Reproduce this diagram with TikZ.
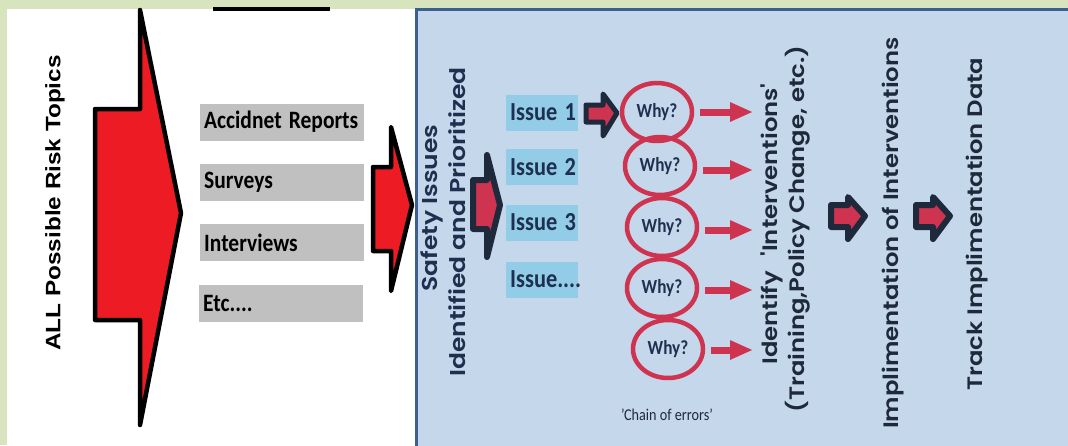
\documentclass[tikz,border=0pt]{standalone}
\usepackage{fontspec}
\usepackage{graphicx}
\usetikzlibrary{arrows.meta,shapes.geometric}
\setmainfont{Carlito}
\IfFontExistsTF{Poppins SemiBold}{\newfontfamily\popfont{Poppins SemiBold}\def\popsz{24.3}\def\popszb{25}}{\newfontfamily\popfont[UprightFont=*-Bold]{Poppins}\def\popsz{24}\def\popszb{24.6}}
\newfontfamily\arialfont{Liberation Sans}
\definecolor{bggreen}{RGB}{215,228,189}
\definecolor{bigred}{RGB}{237,28,36}
\definecolor{crimson}{RGB}{206,52,79}
\definecolor{navyb}{RGB}{30,42,60}
\definecolor{textnavy}{RGB}{30,48,80}
\definecolor{issueblue}{RGB}{146,204,230}
\definecolor{panelblue}{RGB}{197,215,234}
\definecolor{panelborder}{RGB}{60,95,145}
\definecolor{grayb}{RGB}{192,192,192}
\newcommand\hx[1]{\scalebox{0.86}[1]{#1}}
\newcommand\vx[1]{\scalebox{1}[0.86]{#1}}
\begin{document}
\begin{tikzpicture}[x=1pt,y=-1pt,
  bigarrow/.style={draw=black,fill=bigred,line width=4.5pt,line join=round},
  darrow/.style={draw=navyb,fill=crimson,line width=6pt,line join=round},
  graybox/.style={anchor=west,fill=grayb,text width=156pt,inner xsep=4pt,minimum height=37pt,align=left,
     font=\fontsize{25}{30}\selectfont\bfseries,text=black},
  issuebox/.style={anchor=west,fill=issueblue,text width=64pt,inner xsep=4pt,minimum height=36pt,align=left,
     font=\fontsize{26}{30}\selectfont\bfseries,text=textnavy},
  whyc/.style={ellipse,draw=crimson,line width=4.5pt,minimum width=70pt,minimum height=58pt,inner sep=0pt,
     font=\fontsize{20}{22}\selectfont\bfseries,text=textnavy},
  redarrow/.style={draw=crimson,line width=7pt,-{Triangle[length=23pt,width=18pt]}},
  rot/.style={rotate=90,inner sep=0pt},
  poptext/.style={rot,font=\popfont\fontsize{\popsz}{28}\selectfont},
  poptextb/.style={rot,font=\popfont\fontsize{\popszb}{28}\selectfont},
]
\useasboundingbox (0,0) rectangle (1068,445);
\clip (0,0) rectangle (1068,445);
\fill[bggreen] (0,0) rectangle (1068,445);
\fill[white] (7,9) rectangle (416,450);
\fill[panelblue] (415,9) rectangle (1080,460);
\draw[panelborder,line width=3pt] (416.5,460) -- (416.5,9.5) -- (1080,9.5);
\draw[black,line width=4pt] (213,9) -- (330,9);

% left part
\node[rot,font=\arialfont\bfseries\fontsize{24.3}{28}\selectfont,text=black] (topics) at (55,203) {\vx{ALL Possible Risk Topics}};
\draw[bigarrow] (95,109) -- (140,109) -- (140,10) -- (181,213) -- (140,425) -- (140,320) -- (95,320) -- cycle;
\node[graybox] (g1) at (200,122) {\hx{Accidnet Reports}};
\node[graybox] (g2) at (200,182.5) {\hx{Surveys}};
\node[graybox] (g3) at (200,242.5) {\hx{Interviews}};
\node[graybox] (g4) at (199,303) {\hx{Etc....}};
\draw[bigarrow] (373,167) -- (391,167) -- (391,127) -- (412,205) -- (391,291) -- (391,251) -- (373,251) -- cycle;

% right part
\node[poptextb,text=textnavy] (safety) at (432,208) {\vx{Safety Issues}};
\node[poptextb,text=textnavy] (ident) at (457,222) {\vx{Identified and Prioritized}};
\draw[darrow] (473,180) -- (487,180) -- (487,155) -- (500,205) -- (487,257) -- (487,229) -- (473,229) -- cycle;

\node[issuebox] (i1) at (506,112.5) {\hx{Issue 1}};
\node[issuebox] (i2) at (506,167) {\hx{Issue 2}};
\node[issuebox] (i3) at (506,222.5) {\hx{Issue 3}};
\node[issuebox] (i4) at (506,279.5) {\hx{Issue....}};

\draw[darrow,line width=5pt] (586,105) -- (603,105) -- (603,94) -- (617,113) -- (603,136) -- (603,122) -- (586,122) -- cycle;

\node[whyc] (w1) at (657,112) {\hx{Why?}};
\node[whyc] (w2) at (660,166) {\hx{Why?}};
\node[whyc] (w3) at (662,227) {\hx{Why?}};
\node[whyc] (w4) at (662,288) {\hx{Why?}};
\node[whyc] (w5) at (668,349) {\hx{Why?}};

\coordinate (e1) at (753,112);
\coordinate (e2) at (753,170);
\coordinate (e3) at (753,230);
\coordinate (e4) at (753,290);
\coordinate (e5) at (753,350);
\draw[redarrow] ([xshift=6pt]w1.east) -- (e1);
\draw[redarrow] ([xshift=6pt]w2.east |- e2) -- (e2);
\draw[redarrow] ([xshift=6pt]w3.east |- e3) -- (e3);
\draw[redarrow] ([xshift=6pt]w4.east |- e4) -- (e4);
\draw[redarrow] ([xshift=6pt]w5.east |- e5) -- (e5);

\node[font=\fontsize{16.5}{18}\selectfont,text=navyb] (chain) at (667,415) {\hx{'Chain of errors'}};

\node[poptext,text=navyb] (identify) at (772,224) {\vx{Identify\hspace{0.6em}'Interventions'}};
\node[poptext,text=navyb] (training) at (798,229) {\vx{(Training,Policy Change, etc.)}};
\draw[darrow] (831,205) -- (848,205) -- (848,197) -- (865,216) -- (848,239) -- (848,227) -- (831,227) -- cycle;
\node[poptext,text=navyb] (impl) at (893,233) {\vx{Implimentation of Interventions}};
\draw[darrow] (916,205) -- (933,205) -- (933,197) -- (950,216) -- (933,239) -- (933,227) -- (916,227) -- cycle;
\node[poptext,text=navyb] (track) at (977,224) {\vx{Track Implimentation Data}};
\end{tikzpicture}
\end{document}
